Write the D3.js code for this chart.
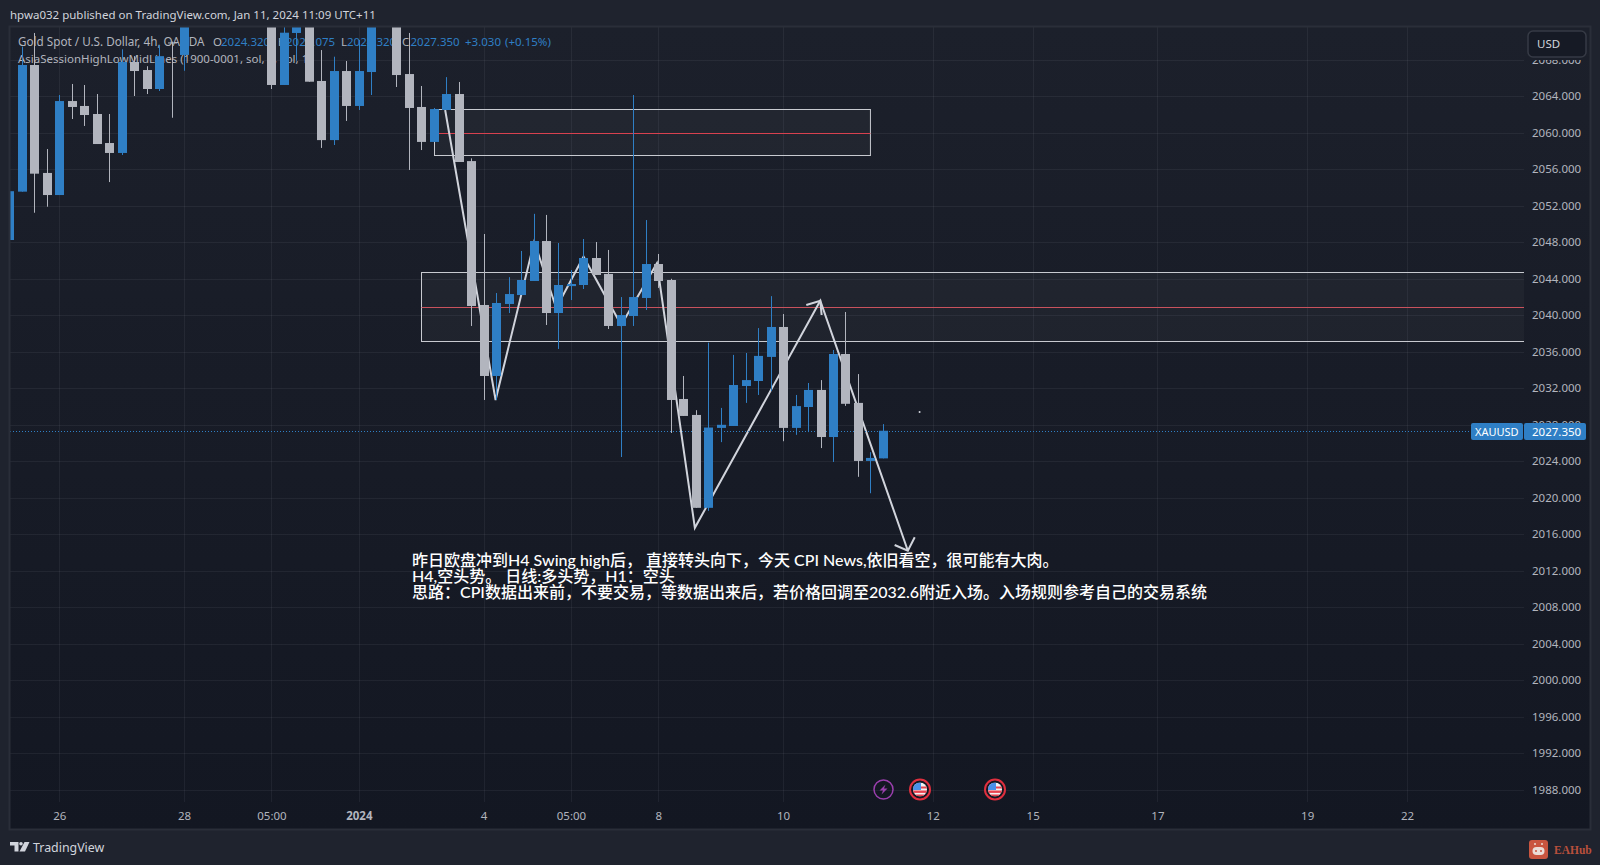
<!DOCTYPE html>
<html>
<head>
<meta charset="utf-8">
<title>XAUUSD 4h</title>
<script src="https://cdn.jsdelivr.net/npm/d3@7"></script>
<style>
  html, body { margin: 0; padding: 0; background: #1f232e; overflow: hidden; }
  text { font-family: "Noto Sans", sans-serif; }
  .cjk { font-family: "Lato", "Noto Sans CJK SC", sans-serif; }
</style>
</head>
<body>
<div id="chart"></div>
<script>
// bars are numbered from 0, one more sits half cut off on the left edge (-1)
const firstBar = -1;
const opens = [2048.25, 2053.55, 2067.43, 2055.6, 2053.18, 2063.48, 2062.94, 2062.06, 2058.88, 2057.79, 2067.76, 2066.88, 2064.8, 2069.9, 2068.53, 2072, 2074, 2076, 2078, 2077, 2076, 2075, 2065.24, 2070.94, 2075, 2065.68, 2059.2, 2066.77, 2062.94, 2066.66, 2080, 2074, 2066.44, 2062.83, 2059, 2062.5, 2064.25, 2056.9, 2041.13, 2033.35, 2041.24, 2042.22, 2043.76, 2048.14, 2040.25, 2043.2, 2043.32, 2046.28, 2044.53, 2038.83, 2039.92, 2041.9, 2045.62, 2043.87, 2030.83, 2029.08, 2018.9, 2027.66, 2027.87, 2032.25, 2032.8, 2035.44, 2038.72, 2027.66, 2029.95, 2031.82, 2026.66, 2035.76, 2030.4, 2024.04, 2024.32];
const highs = [2053.6, 2069.44, 2070.94, 2058.22, 2064.14, 2065.35, 2065.24, 2064.25, 2062.06, 2069.15, 2068.4, 2067.3, 2069.6, 2070, 2076, 2075, 2077, 2079, 2080, 2079, 2078, 2076, 2073, 2076, 2076, 2069.07, 2068.34, 2067.87, 2070.17, 2077, 2081, 2076, 2070.94, 2065.13, 2062.72, 2066.1, 2065.57, 2057.2, 2048.91, 2042.44, 2044.18, 2047.05, 2051.12, 2051, 2047.92, 2044.96, 2048.36, 2048.03, 2047.16, 2042, 2064.14, 2050.44, 2046.72, 2044, 2033.35, 2029.6, 2037, 2029.85, 2035.66, 2035.87, 2038.6, 2042.1, 2040.14, 2031.27, 2032.58, 2032.9, 2036.2, 2040.36, 2033.56, 2025, 2028.075];
const lows = [2048.25, 2053.55, 2051.24, 2051.9, 2053.18, 2061.51, 2060.75, 2058.77, 2054.6, 2057.57, 2064.03, 2064.25, 2064.58, 2061.65, 2066.8, 2071.8, 2073, 2075, 2076, 2074, 2074.5, 2064.8, 2065.24, 2067.9, 2065.6, 2058.34, 2058.66, 2061.3, 2062.5, 2064.14, 2076, 2065.02, 2055.93, 2058.11, 2059, 2062.5, 2056.8, 2038.83, 2030.72, 2030.72, 2040.25, 2042.22, 2043.76, 2038.94, 2036.31, 2041.67, 2042.88, 2044.42, 2038.5, 2024.47, 2038.83, 2040.58, 2043, 2027.1, 2028.97, 2018.9, 2018.57, 2026.1, 2027.87, 2030.4, 2031.27, 2031.7, 2026.2, 2026.9, 2027.2, 2025.45, 2023.93, 2030.07, 2022.3, 2020.5, 2024.32];
const closes = [2053.6, 2067.43, 2055.52, 2053.18, 2063.48, 2062.83, 2061.95, 2058.77, 2057.79, 2067.76, 2066.77, 2064.8, 2068.4, 2069.8, 2075, 2074, 2076, 2078, 2077, 2076, 2075, 2065.24, 2070.97, 2075, 2065.6, 2059.2, 2066.77, 2062.94, 2066.77, 2075, 2078, 2066.33, 2062.72, 2059, 2062.6, 2064.25, 2056.8, 2041.02, 2033.35, 2041.35, 2042.33, 2043.87, 2048.14, 2040.25, 2043.32, 2043.43, 2046.28, 2044.42, 2038.83, 2040.03, 2042, 2045.62, 2043.76, 2030.72, 2028.97, 2018.9, 2027.7, 2028, 2032.36, 2032.9, 2035.55, 2038.72, 2027.66, 2030.05, 2031.82, 2026.66, 2035.76, 2030.3, 2024.04, 2024.37, 2027.35];

const priceTicks = d3.range(1988, 2069, 4);
const timeTickBars = [3, 13, 20, 27, 37, 44, 51, 61, 73, 81, 91, 103, 111];
const timeTickLabels = ['26', '28', '05:00', '2024', '4', '05:00', '8', '10', '12', '15', '17', '19', '22'];

// drawings, [bar, price]
const zigzag = [[33.92, 2062.5], [37.96, 2030.72], [41.06, 2048.07], [42.82, 2040.8], [45.01, 2046.42], [48.03, 2038.94], [50.89, 2045.7], [53.93, 2016.71], [63.98, 2041.6], [71, 2014.2]];
const peakBarbs = [[62.86, 2041.13], [63.98, 2041.6], [64.09, 2040.03]];
const endBarbs = [[69.94, 2014.83], [71, 2014.2], [71.55, 2015.67]];
const upperBox = { bar0: 33, bar1: 68, top: 2062.6, mid: 2060, bottom: 2057.57 };
const lowerBox = { bar0: 32, top: 2044.75, mid: 2040.88, bottom: 2037.15 };
const strayDot = [71.94, 2029.4];
const lastPrice = 2027.35;

const noteLines = [
  '昨日欧盘冲到H4 Swing high后， 直接转头向下，今天 CPI News,依旧看空，很可能有大肉。',
  'H4,空头势。 日线:多头势，H1：空头',
  '思路：CPI数据出来前，不要交易，等数据出来后，若价格回调至2032.6附近入场。入场规则参考自己的交易系统'
];

const width = 1600, height = 865;
const paneLeft = 10, paneRight = 1524, paneTop = 27, paneBottom = 802;
const blue = '#2f7fc5', grey = '#b2b5be', lineGrey = '#d1d4dc';

const x = d3.scaleLinear().domain([0, 111]).range([21.9, 1407]);
const y = d3.scaleLinear().domain([2064, 2024]).range([96.3, 461.3]);

const svg = d3.select('#chart').append('svg')
  .attr('width', width)
  .attr('height', height)
  .style('display', 'block');

const defs = svg.append('defs');
const grad = defs.append('linearGradient').attr('id', 'paneBg').attr('x1', 0).attr('x2', 0).attr('y1', 0).attr('y2', 1);
grad.append('stop').attr('offset', '0%').attr('stop-color', '#1c202b');
grad.append('stop').attr('offset', '100%').attr('stop-color', '#131722');
defs.append('clipPath').attr('id', 'paneClip').append('rect')
  .attr('x', paneLeft).attr('y', paneTop)
  .attr('width', paneRight - paneLeft).attr('height', paneBottom - paneTop);
defs.append('clipPath').attr('id', 'flagClip').append('circle').attr('r', 7);

svg.append('rect').attr('width', width).attr('height', height).attr('fill', '#1f232e');
svg.append('rect')
  .attr('x', paneLeft).attr('y', paneTop)
  .attr('width', 1590 - paneLeft).attr('height', 829 - paneTop)
  .attr('fill', 'url(#paneBg)');

// header
svg.append('text')
  .attr('x', 10).attr('y', 19)
  .attr('fill', '#d1d4dc')
  .attr('font-size', 11.5)
  .text('hpwa032 published on TradingView.com, Jan 11, 2024 11:09 UTC+11');

// grid
const grid = svg.append('g');
grid.selectAll('.h-grid').data(priceTicks).enter().append('line')
  .attr('x1', paneLeft).attr('x2', paneRight)
  .attr('y1', d => Math.round(y(d)) + 0.5).attr('y2', d => Math.round(y(d)) + 0.5)
  .attr('stroke', 'rgba(240,243,250,0.06)');
grid.selectAll('.v-grid').data(timeTickBars).enter().append('line')
  .attr('x1', d => Math.round(x(d)) + 0.5).attr('x2', d => Math.round(x(d)) + 0.5)
  .attr('y1', paneTop).attr('y2', paneBottom)
  .attr('stroke', 'rgba(240,243,250,0.06)');

// legend sits under the candles
const legend = svg.append('g').attr('font-size', 11.5);
legend.append('text').attr('x', 18).attr('y', 46).attr('fill', grey).attr('font-size', 11.7).text('Gold Spot / U.S. Dollar, 4h, OANDA');
[['O', 213, grey], ['2024.320', 221, blue], ['H', 278, grey], ['2028.075', 286, blue], ['L', 341, grey], ['2024.320', 347, blue], ['C', 402, grey], ['2027.350', 410.5, blue], ['+3.030', 465, blue], ['(+0.15%)', 505, blue]].forEach(d => {
  legend.append('text').attr('x', d[1]).attr('y', 46).attr('fill', d[2]).text(d[0]);
});
legend.append('text').attr('x', 18).attr('y', 63).attr('fill', grey).text('AsiaSessionHighLowMidLines (1900-0001, sol, 1, sol, 1');

const pane = svg.append('g').attr('clip-path', 'url(#paneClip)');

// price zones
function drawBox(box, x0, x1, midColor) {
  const top = Math.round(y(box.top)) + 0.5;
  const bottom = Math.round(y(box.bottom)) + 0.5;
  const mid = Math.round(y(box.mid)) + 0.5;
  x0 = Math.round(x0) + 0.5;
  pane.append('rect')
    .attr('x', x0).attr('y', top)
    .attr('width', x1 - x0).attr('height', bottom - top)
    .attr('fill', 'rgba(255,255,255,0.03)')
    .attr('stroke', '#c8cad0');
  pane.append('line')
    .attr('x1', x0).attr('x2', x1)
    .attr('y1', mid).attr('y2', mid)
    .attr('stroke', midColor);
}
drawBox(upperBox, x(upperBox.bar0), x(upperBox.bar1), '#d8414f');
drawBox(lowerBox, x(lowerBox.bar0), paneRight + 4, '#c9525d');

// arrow path
const pathLine = d3.line().x(d => x(d[0])).y(d => y(d[1]));
[zigzag, peakBarbs, endBarbs].forEach(pts => {
  pane.append('path')
    .attr('d', pathLine(pts))
    .attr('fill', 'none')
    .attr('stroke', lineGrey)
    .attr('stroke-width', 2);
});

pane.append('circle').attr('cx', x(strayDot[0])).attr('cy', y(strayDot[1])).attr('r', 1).attr('fill', lineGrey);

// dotted last price line
pane.append('line')
  .attr('x1', paneLeft).attr('x2', 1471)
  .attr('y1', Math.round(y(lastPrice)) + 0.5).attr('y2', Math.round(y(lastPrice)) + 0.5)
  .attr('stroke', blue)
  .attr('stroke-dasharray', '1,2');

// candles
const bars = opens.map((o, i) => ({ bar: firstBar + i, o: o, h: highs[i], l: lows[i], c: closes[i] }));
const barColor = d => d.c >= d.o ? blue : grey;

pane.selectAll('.wick').data(bars).enter().append('line')
  .attr('class', 'wick')
  .attr('x1', d => Math.round(x(d.bar)) + 0.5).attr('x2', d => Math.round(x(d.bar)) + 0.5)
  .attr('y1', d => y(d.h)).attr('y2', d => y(d.l))
  .attr('stroke', barColor);

pane.selectAll('.body').data(bars).enter().append('rect')
  .attr('class', 'body')
  .attr('x', d => Math.round(x(d.bar)) - 4)
  .attr('width', 9)
  .attr('y', d => y(Math.max(d.o, d.c)))
  .attr('height', d => Math.max(1, Math.abs(y(d.o) - y(d.c))))
  .attr('fill', barColor);

// note
const note = svg.append('g').attr('class', 'cjk').attr('fill', '#ffffff').attr('font-size', 16).attr('font-weight', 500);
note.selectAll('text').data(noteLines).enter().append('text')
  .attr('class', 'cjk')
  .attr('x', 412)
  .attr('y', (d, i) => 566 + i * 16)
  .text(d => d);

// price axis
const priceAxis = d3.axisRight(y).tickValues(priceTicks).tickSize(0).tickPadding(0).tickFormat(d => d.toFixed(3));
const priceG = svg.append('g').attr('transform', `translate(1532,0)`).call(priceAxis);
priceG.select('.domain').remove();
priceG.selectAll('text').attr('fill', grey).attr('font-size', 11.5).style('font-family', '"Noto Sans", sans-serif');

// time axis
const timeAxis = d3.axisBottom(x).tickValues(timeTickBars).tickSize(0).tickPadding(0)
  .tickFormat((d, i) => timeTickLabels[i]);
const timeG = svg.append('g').attr('transform', `translate(0,${paneBottom + 10})`).call(timeAxis);
timeG.select('.domain').remove();
timeG.selectAll('text').attr('fill', grey).attr('font-size', 11.5).style('font-family', '"Noto Sans", sans-serif')
  .attr('font-weight', d => d === 27 ? 700 : 400);

// currency button, it also hides the top half of the highest price label
svg.append('rect').attr('x', 1525).attr('y', 56).attr('width', 64).attr('height', 4).attr('fill', '#1b1f2a');
svg.append('rect')
  .attr('x', 1528).attr('y', 31).attr('width', 58).attr('height', 26).attr('rx', 5)
  .attr('fill', '#161a25').attr('stroke', '#363a45').attr('stroke-width', 1.5);
svg.append('text').attr('x', 1537).attr('y', 48).attr('fill', '#d1d4dc').attr('font-size', 11.5).text('USD');

// last price tags
const tagY = Math.round(y(lastPrice)) - 8;
svg.append('rect').attr('x', 1471).attr('y', tagY).attr('width', 52).attr('height', 17).attr('rx', 2).attr('fill', blue);
svg.append('rect').attr('x', 1524).attr('y', tagY).attr('width', 62).attr('height', 17).attr('rx', 2).attr('fill', blue);
svg.append('text').attr('x', 1475).attr('y', tagY + 13).attr('fill', '#fff').attr('font-size', 11).text('XAUUSD');
svg.append('text').attr('x', 1532).attr('y', tagY + 13).attr('fill', '#fff').attr('font-size', 11.5).text(lastPrice.toFixed(3));

// event markers on the time line
const eventY = 789.5;
function drawFlag(cx) {
  const g = svg.append('g').attr('transform', `translate(${cx},${eventY})`);
  g.append('circle').attr('r', 10).attr('fill', '#131722').attr('stroke', '#e02f3e').attr('stroke-width', 2);
  const f = g.append('g').attr('clip-path', 'url(#flagClip)');
  f.append('rect').attr('x', -7).attr('y', -7).attr('width', 14).attr('height', 14).attr('fill', '#f2f2f2');
  f.append('rect').attr('x', -7).attr('y', -3).attr('width', 14).attr('height', 2).attr('fill', '#e8434f');
  f.append('rect').attr('x', -7).attr('y', 1).attr('width', 14).attr('height', 2.4).attr('fill', '#e8434f');
  f.append('rect').attr('x', -7).attr('y', 5).attr('width', 14).attr('height', 2).attr('fill', '#e8434f');
  f.append('rect').attr('x', -7).attr('y', -7).attr('width', 8).attr('height', 7.5).attr('fill', '#4a90e8');
}
const bolt = svg.append('g').attr('transform', `translate(883.5,${eventY})`);
bolt.append('circle').attr('r', 9.5).attr('fill', 'none').attr('stroke', '#9b3fae').attr('stroke-width', 1.5);
bolt.append('path').attr('d', 'M2,-5 L-4,1 L-0.5,1 L-2,5 L4,-1 L0.5,-1 Z').attr('fill', '#9b3fae');
drawFlag(920);
drawFlag(995);

// pane border goes over everything
svg.append('rect')
  .attr('x', paneLeft - 0.5).attr('y', paneTop - 0.5)
  .attr('width', 1590 - paneLeft + 1).attr('height', 829 - paneTop + 1)
  .attr('fill', 'none').attr('stroke', '#2a2e39').attr('stroke-width', 2);

// footer logos
const logo = svg.append('g').attr('transform', 'translate(10,842)').attr('fill', '#d1d4dc');
logo.append('path').attr('d', 'M0,0 H8.5 V9.5 H4.5 V3.5 H0 Z');
logo.append('circle').attr('cx', 11).attr('cy', 1.8).attr('r', 1.8);
logo.append('path').attr('d', 'M14.5,0 H19.5 L15,9.5 H9.5 Z');
svg.append('text').attr('x', 33).attr('y', 852).attr('fill', '#d1d4dc').attr('font-size', 12.4).text('TradingView');

const ea = svg.append('g').attr('transform', 'translate(1529,840)');
ea.append('rect').attr('width', 19).attr('height', 19).attr('rx', 3).attr('fill', '#c9553f');
ea.append('rect').attr('x', 3.5).attr('y', 7).attr('width', 12).attr('height', 8).attr('rx', 4).attr('fill', '#eadcd6');
ea.append('circle').attr('cx', 7).attr('cy', 11).attr('r', 1).attr('fill', '#c9553f');
ea.append('circle').attr('cx', 12).attr('cy', 11).attr('r', 1).attr('fill', '#c9553f');
ea.append('circle').attr('cx', 6).attr('cy', 4).attr('r', 1).attr('fill', '#eadcd6');
ea.append('circle').attr('cx', 13).attr('cy', 4).attr('r', 1).attr('fill', '#eadcd6');
svg.append('text').attr('x', 1554).attr('y', 854).attr('fill', '#b8503c').attr('font-size', 11.5).attr('font-weight', 700)
  .style('font-family', '"Liberation Serif", "DejaVu Serif", serif').text('EAHub');
</script>
</body>
</html>
